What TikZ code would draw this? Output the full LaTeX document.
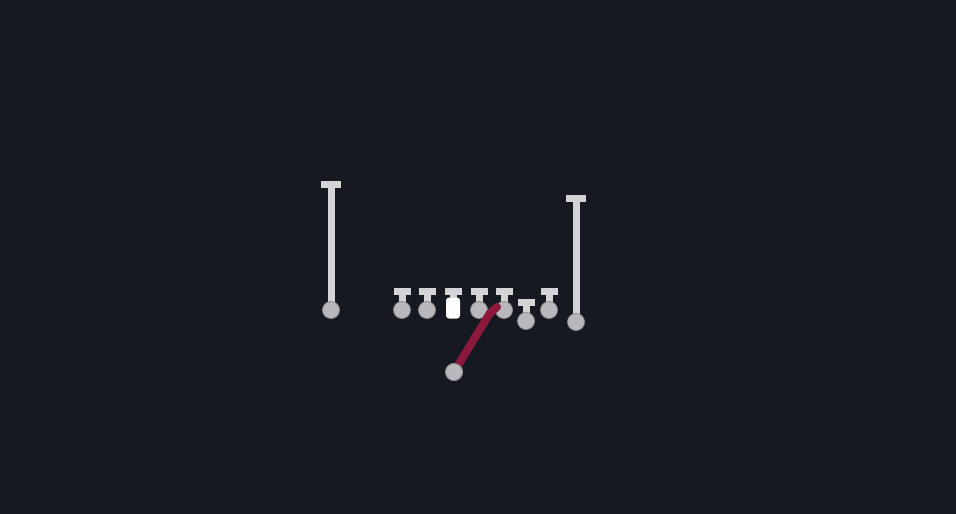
\documentclass[tikz,border=0pt]{standalone}
\definecolor{field}{RGB}{22,25,34}
\definecolor{chalk}{RGB}{212,212,215}
\definecolor{disc}{RGB}{185,185,189}
\definecolor{route}{RGB}{140,24,60}
\tikzset{
  player/.style={circle,fill=disc,draw=disc!75!black,line width=0.8pt,minimum size=17pt,inner sep=0pt},
  centre/.style={rectangle,rounded corners=3pt,fill=white,minimum width=14pt,minimum height=21pt,inner sep=0pt},
  stem/.style={chalk,line width=7pt},
  tbar/.style={chalk,line width=7pt},
  routeline/.style={route,line width=8pt,line cap=round,line join=round}
}
\begin{document}
\begin{tikzpicture}[x=1pt,y=-1pt]
\fill[field] (0,0) rectangle (956,514);
% wide receivers
\foreach \n/\x/\y/\t in {lwr/331/310/184,rwr/576/322/198}
{\coordinate (\n top) at (\x,\t);
\draw[stem] (\x,\y) -- (\n top);
\draw[tbar] ([xshift=-10pt]\n top) -- ([xshift=10pt]\n top);
\node[player] (\n) at (\x,\y) {};}
% line
\foreach \n/\x/\y in {lt/402/310,lg/427/310,rg/479/310,rt/504/310,te/526/321,wg/549/310}
{\coordinate (\n top) at (\x,\y-19);
\draw[stem] (\x,\y) -- (\n top);
\draw[tbar] ([xshift=-8.5pt]\n top) -- ([xshift=8.5pt]\n top);
\node[player] (\n) at (\x,\y) {};}
\coordinate (ctop) at (453,291);
\draw[stem] (453,305) -- (ctop);
\draw[tbar] ([xshift=-8.5pt]ctop) -- ([xshift=8.5pt]ctop);
\node[centre] (c) at (453,308) {};
% back and route
\node[player] (qb) at (454,372) {};
\coordinate (bend) at (490,313);
\coordinate (hook) at (497,307);
\draw[routeline] (qb.center) -- (bend) -- (hook);
\node[player] at (454,372) {};
\end{tikzpicture}
\end{document}
